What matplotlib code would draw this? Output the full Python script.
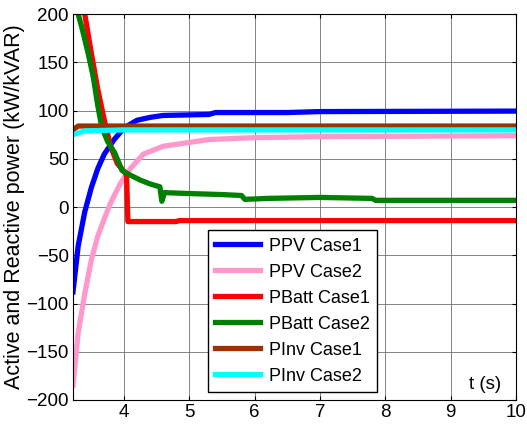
import matplotlib
matplotlib.use('Agg')
import matplotlib.pyplot as plt

plt.rcParams['font.family'] = ['Liberation Sans', 'DejaVu Sans']

# PPV Case1
t_pv1 = [3.22, 3.3, 3.4, 3.5, 3.6, 3.7, 3.85, 4.0, 4.2, 4.4, 4.6, 5.3, 5.4, 6.5, 7.0, 10.0]
p_pv1 = [-88, -40, -5, 20, 40, 55, 70, 82, 90, 93, 95, 96, 98, 98, 99, 99.5]
# PPV Case2
t_pv2 = [3.22, 3.3, 3.4, 3.5, 3.6, 3.7, 3.8, 3.95, 4.1, 4.3, 4.6, 5.0, 5.3, 6.0, 7.0, 10.0]
p_pv2 = [-185, -130, -90, -55, -30, -12, 5, 25, 40, 55, 63, 67, 70, 72, 73, 74]
# PBatt Case1
t_b1 = [3.4, 3.5, 3.6, 3.7, 3.8, 3.9, 4.0, 4.04, 4.06, 4.8, 4.85, 10.0]
p_b1 = [200, 160, 122, 90, 62, 45, 37, 33, -15, -15, -14, -14]
# PBatt Case2
t_b2 = [3.3, 3.36, 3.45, 3.53, 3.6, 3.66, 3.75, 3.86, 3.97, 4.1, 4.25, 4.4, 4.55, 4.58,
        4.62, 5.0, 5.5, 5.8, 5.85, 6.2, 7.0, 7.8, 7.85, 10.0]
p_b2 = [200, 185, 160, 135, 105, 83, 68, 56, 38, 33, 28, 24, 21, 6,
        15, 14, 13, 12, 8, 9, 10, 9, 7, 7]
# PInv Case1 / Case2
t_inv1 = [3.22, 3.3, 10.0]
p_inv1 = [80, 84, 84]
t_inv2 = [3.22, 3.4, 4.0, 10.0]
p_inv2 = [75, 79, 80, 80]

series = [
    (t_pv1, p_pv1, 'PPV Case1', '#0000ff'),
    (t_pv2, p_pv2, 'PPV Case2', '#ff99cc'),
    (t_b1, p_b1, 'PBatt Case1', '#ff0000'),
    (t_b2, p_b2, 'PBatt Case2', '#008000'),
    (t_inv1, p_inv1, 'PInv Case1', '#993300'),
    (t_inv2, p_inv2, 'PInv Case2', '#00ffff'),
]

fig = plt.figure(figsize=(5.27, 4.29), dpi=100)
ax = fig.add_axes([0.1385, 0.0676, 0.8405, 0.8994])

for t, p, lab, col in series:
    ax.plot(t, p, color=col, lw=3.8, label=lab)

ax.set_xlim(3.22, 10)
ax.set_ylim(-200, 200)
ax.set_xticks([4, 5, 6, 7, 8, 9, 10])
ax.set_yticks(range(-200, 201, 50))
ax.grid(True, color='#707070', lw=0.6)
ax.tick_params(direction='in', labelsize=13.5, top=True, right=True, length=3, pad=3)
ax.set_ylabel('Active and Reactive power (kW/kVAR)', fontsize=15.5, labelpad=1)
ax.text(9.28, -184, 't (s)', fontsize=13.5, va='center', ha='left')

leg = ax.legend(loc='lower left', bbox_to_anchor=(0.305, 0.021), fontsize=13,
                fancybox=False, framealpha=1, edgecolor='black', borderaxespad=0,
                handlelength=2.5, handletextpad=0.45, labelspacing=0.5, borderpad=0.4)
leg.get_frame().set_linewidth(1.0)

fig.savefig('out.png', dpi=100)
